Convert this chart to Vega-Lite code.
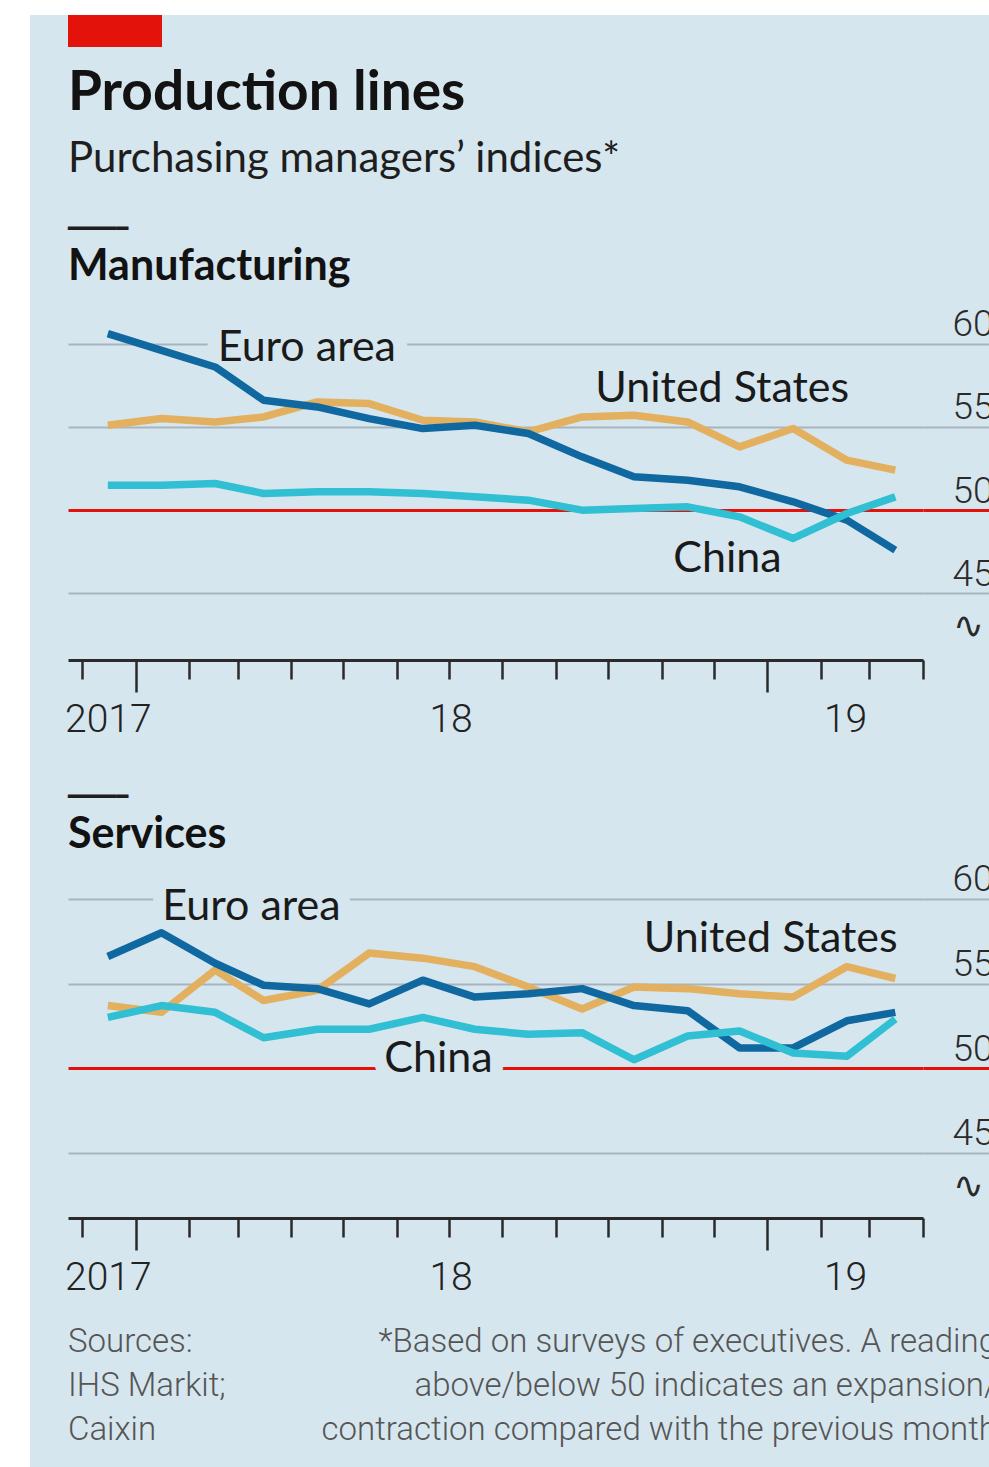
{
  "$schema": "https://vega.github.io/schema/vega-lite/v6.json",
  "background": "#d6e6ee",
  "padding": 0,
  "config": {"view": {"stroke": null}, "font": "Lato"},
  "datasets": {
    "pmi": [
      {"sector": "Manufacturing", "series": "United States", "date": "2017-12-16", "value": 55.1},
      {"sector": "Manufacturing", "series": "United States", "date": "2018-01-16", "value": 55.5},
      {"sector": "Manufacturing", "series": "United States", "date": "2018-02-16", "value": 55.3},
      {"sector": "Manufacturing", "series": "United States", "date": "2018-03-16", "value": 55.6},
      {"sector": "Manufacturing", "series": "United States", "date": "2018-04-16", "value": 56.5},
      {"sector": "Manufacturing", "series": "United States", "date": "2018-05-16", "value": 56.4},
      {"sector": "Manufacturing", "series": "United States", "date": "2018-06-16", "value": 55.4},
      {"sector": "Manufacturing", "series": "United States", "date": "2018-07-16", "value": 55.3},
      {"sector": "Manufacturing", "series": "United States", "date": "2018-08-16", "value": 54.7},
      {"sector": "Manufacturing", "series": "United States", "date": "2018-09-16", "value": 55.6},
      {"sector": "Manufacturing", "series": "United States", "date": "2018-10-16", "value": 55.7},
      {"sector": "Manufacturing", "series": "United States", "date": "2018-11-16", "value": 55.3},
      {"sector": "Manufacturing", "series": "United States", "date": "2018-12-16", "value": 53.8},
      {"sector": "Manufacturing", "series": "United States", "date": "2019-01-16", "value": 54.9},
      {"sector": "Manufacturing", "series": "United States", "date": "2019-02-16", "value": 53.0},
      {"sector": "Manufacturing", "series": "United States", "date": "2019-03-16", "value": 52.4},
      {"sector": "Manufacturing", "series": "Euro area", "date": "2017-12-16", "value": 60.6},
      {"sector": "Manufacturing", "series": "Euro area", "date": "2018-01-16", "value": 59.6},
      {"sector": "Manufacturing", "series": "Euro area", "date": "2018-02-16", "value": 58.6},
      {"sector": "Manufacturing", "series": "Euro area", "date": "2018-03-16", "value": 56.6},
      {"sector": "Manufacturing", "series": "Euro area", "date": "2018-04-16", "value": 56.2},
      {"sector": "Manufacturing", "series": "Euro area", "date": "2018-05-16", "value": 55.5},
      {"sector": "Manufacturing", "series": "Euro area", "date": "2018-06-16", "value": 54.9},
      {"sector": "Manufacturing", "series": "Euro area", "date": "2018-07-16", "value": 55.1},
      {"sector": "Manufacturing", "series": "Euro area", "date": "2018-08-16", "value": 54.6},
      {"sector": "Manufacturing", "series": "Euro area", "date": "2018-09-16", "value": 53.2},
      {"sector": "Manufacturing", "series": "Euro area", "date": "2018-10-16", "value": 52.0},
      {"sector": "Manufacturing", "series": "Euro area", "date": "2018-11-16", "value": 51.8},
      {"sector": "Manufacturing", "series": "Euro area", "date": "2018-12-16", "value": 51.4},
      {"sector": "Manufacturing", "series": "Euro area", "date": "2019-01-16", "value": 50.5},
      {"sector": "Manufacturing", "series": "Euro area", "date": "2019-02-16", "value": 49.4},
      {"sector": "Manufacturing", "series": "Euro area", "date": "2019-03-16", "value": 47.6},
      {"sector": "Manufacturing", "series": "China", "date": "2017-12-16", "value": 51.5},
      {"sector": "Manufacturing", "series": "China", "date": "2018-01-16", "value": 51.5},
      {"sector": "Manufacturing", "series": "China", "date": "2018-02-16", "value": 51.6},
      {"sector": "Manufacturing", "series": "China", "date": "2018-03-16", "value": 51.0},
      {"sector": "Manufacturing", "series": "China", "date": "2018-04-16", "value": 51.1},
      {"sector": "Manufacturing", "series": "China", "date": "2018-05-16", "value": 51.1},
      {"sector": "Manufacturing", "series": "China", "date": "2018-06-16", "value": 51.0},
      {"sector": "Manufacturing", "series": "China", "date": "2018-07-16", "value": 50.8},
      {"sector": "Manufacturing", "series": "China", "date": "2018-08-16", "value": 50.6},
      {"sector": "Manufacturing", "series": "China", "date": "2018-09-16", "value": 50.0},
      {"sector": "Manufacturing", "series": "China", "date": "2018-10-16", "value": 50.1},
      {"sector": "Manufacturing", "series": "China", "date": "2018-11-16", "value": 50.2},
      {"sector": "Manufacturing", "series": "China", "date": "2018-12-16", "value": 49.6},
      {"sector": "Manufacturing", "series": "China", "date": "2019-01-16", "value": 48.3},
      {"sector": "Manufacturing", "series": "China", "date": "2019-02-16", "value": 49.8},
      {"sector": "Manufacturing", "series": "China", "date": "2019-03-16", "value": 50.8},
      {"sector": "Services", "series": "United States", "date": "2017-12-16", "value": 53.7},
      {"sector": "Services", "series": "United States", "date": "2018-01-16", "value": 53.3},
      {"sector": "Services", "series": "United States", "date": "2018-02-16", "value": 55.8},
      {"sector": "Services", "series": "United States", "date": "2018-03-16", "value": 54.0},
      {"sector": "Services", "series": "United States", "date": "2018-04-16", "value": 54.6},
      {"sector": "Services", "series": "United States", "date": "2018-05-16", "value": 56.8},
      {"sector": "Services", "series": "United States", "date": "2018-06-16", "value": 56.5},
      {"sector": "Services", "series": "United States", "date": "2018-07-16", "value": 56.0},
      {"sector": "Services", "series": "United States", "date": "2018-08-16", "value": 54.8},
      {"sector": "Services", "series": "United States", "date": "2018-09-16", "value": 53.5},
      {"sector": "Services", "series": "United States", "date": "2018-10-16", "value": 54.8},
      {"sector": "Services", "series": "United States", "date": "2018-11-16", "value": 54.7},
      {"sector": "Services", "series": "United States", "date": "2018-12-16", "value": 54.4},
      {"sector": "Services", "series": "United States", "date": "2019-01-16", "value": 54.2},
      {"sector": "Services", "series": "United States", "date": "2019-02-16", "value": 56.0},
      {"sector": "Services", "series": "United States", "date": "2019-03-16", "value": 55.3},
      {"sector": "Services", "series": "Euro area", "date": "2017-12-16", "value": 56.6},
      {"sector": "Services", "series": "Euro area", "date": "2018-01-16", "value": 58.0},
      {"sector": "Services", "series": "Euro area", "date": "2018-02-16", "value": 56.2},
      {"sector": "Services", "series": "Euro area", "date": "2018-03-16", "value": 54.9},
      {"sector": "Services", "series": "Euro area", "date": "2018-04-16", "value": 54.7},
      {"sector": "Services", "series": "Euro area", "date": "2018-05-16", "value": 53.8},
      {"sector": "Services", "series": "Euro area", "date": "2018-06-16", "value": 55.2},
      {"sector": "Services", "series": "Euro area", "date": "2018-07-16", "value": 54.2},
      {"sector": "Services", "series": "Euro area", "date": "2018-08-16", "value": 54.4},
      {"sector": "Services", "series": "Euro area", "date": "2018-09-16", "value": 54.7},
      {"sector": "Services", "series": "Euro area", "date": "2018-10-16", "value": 53.7},
      {"sector": "Services", "series": "Euro area", "date": "2018-11-16", "value": 53.4},
      {"sector": "Services", "series": "Euro area", "date": "2018-12-16", "value": 51.2},
      {"sector": "Services", "series": "Euro area", "date": "2019-01-16", "value": 51.2},
      {"sector": "Services", "series": "Euro area", "date": "2019-02-16", "value": 52.8},
      {"sector": "Services", "series": "Euro area", "date": "2019-03-16", "value": 53.3},
      {"sector": "Services", "series": "China", "date": "2017-12-16", "value": 53.0},
      {"sector": "Services", "series": "China", "date": "2018-01-16", "value": 53.7},
      {"sector": "Services", "series": "China", "date": "2018-02-16", "value": 53.3},
      {"sector": "Services", "series": "China", "date": "2018-03-16", "value": 51.8},
      {"sector": "Services", "series": "China", "date": "2018-04-16", "value": 52.3},
      {"sector": "Services", "series": "China", "date": "2018-05-16", "value": 52.3},
      {"sector": "Services", "series": "China", "date": "2018-06-16", "value": 53.0},
      {"sector": "Services", "series": "China", "date": "2018-07-16", "value": 52.3},
      {"sector": "Services", "series": "China", "date": "2018-08-16", "value": 52.0},
      {"sector": "Services", "series": "China", "date": "2018-09-16", "value": 52.1},
      {"sector": "Services", "series": "China", "date": "2018-10-16", "value": 50.5},
      {"sector": "Services", "series": "China", "date": "2018-11-16", "value": 51.9},
      {"sector": "Services", "series": "China", "date": "2018-12-16", "value": 52.2},
      {"sector": "Services", "series": "China", "date": "2019-01-16", "value": 50.9},
      {"sector": "Services", "series": "China", "date": "2019-02-16", "value": 50.7},
      {"sector": "Services", "series": "China", "date": "2019-03-16", "value": 52.9}
    ],
    "labels": [
      {"sector": "Manufacturing", "series": "Euro area", "date": "2018-04-10", "value": 58.94},
      {"sector": "Manufacturing", "series": "United States", "date": "2018-12-06", "value": 56.48},
      {"sector": "Manufacturing", "series": "China", "date": "2018-12-09", "value": 46.28},
      {"sector": "Services", "series": "Euro area", "date": "2018-03-09", "value": 58.74},
      {"sector": "Services", "series": "United States", "date": "2019-01-03", "value": 56.85},
      {"sector": "Services", "series": "China", "date": "2018-06-25", "value": 49.76}
    ]
  },
  "spacing": 0,
  "vconcat": [
    {"width": 989, "height": 15, "view": {"fill": "#ffffff", "stroke": null}, "data": {"values": [{}]}, "mark": {"type": "text", "text": ""}},
    {
      "spacing": 38,
      "bounds": "flush",
      "hconcat": [
        {"width": 30, "height": 1452, "view": {"fill": "#ffffff", "stroke": null}, "data": {"values": [{}]}, "mark": {"type": "text", "text": ""}},
        {
          "spacing": 38,
          "vconcat": [
            {
              "width": 94, "height": 32,
              "view": {"fill": "#e3120b", "stroke": null},
              "data": {"values": [{}]},
              "mark": {"type": "text", "text": ""},
              "title": {
                "text": "Production lines", "subtitle": "Purchasing managers’ indices*",
                "orient": "bottom", "anchor": "start", "frame": "group",
                "font": "Lato", "fontSize": 55, "fontWeight": "bold", "color": "#121212",
                "subtitleFont": "Lato", "subtitleFontSize": 42, "subtitleColor": "#1e1e1e",
                "offset": 20, "subtitlePadding": 17
              }
            },
            {
              "spacing": 34,
              "vconcat": [
                {
                  "width": 855, "height": 333,
                  "title": {
                    "text": "━━━━━", "subtitle": "Manufacturing",
                    "anchor": "start", "frame": "group", "orient": "top",
                    "font": "DejaVu Sans", "fontSize": 20, "color": "#1e1e1e",
                    "subtitleFont": "Lato", "subtitleFontSize": 43, "subtitleFontWeight": "bold", "subtitleColor": "#121212",
                    "subtitlePadding": 7, "offset": 17
                  },
                  "encoding": {
                    "x": {"field": "date", "type": "temporal",
                      "scale": {"type": "utc", "domain": [{"year": 2017, "month": 11, "date": 23, "utc": true}, {"year": 2019, "month": 4, "date": 1, "utc": true}]},
                      "axis": {
                        "title": null, "orient": "bottom", "grid": false,
                        "values": [
                          {"year": 2017, "month": 12, "date": 1, "utc": true}, {"year": 2018, "month": 1, "date": 1, "utc": true}, {"year": 2018, "month": 2, "date": 1, "utc": true},
                          {"year": 2018, "month": 3, "date": 1, "utc": true}, {"year": 2018, "month": 4, "date": 1, "utc": true}, {"year": 2018, "month": 5, "date": 1, "utc": true},
                          {"year": 2018, "month": 6, "date": 1, "utc": true}, {"year": 2018, "month": 7, "date": 1, "utc": true}, {"year": 2018, "month": 8, "date": 1, "utc": true},
                          {"year": 2018, "month": 9, "date": 1, "utc": true}, {"year": 2018, "month": 10, "date": 1, "utc": true}, {"year": 2018, "month": 11, "date": 1, "utc": true},
                          {"year": 2018, "month": 12, "date": 1, "utc": true}, {"year": 2019, "month": 1, "date": 1, "utc": true}, {"year": 2019, "month": 2, "date": 1, "utc": true},
                          {"year": 2019, "month": 3, "date": 1, "utc": true}, {"year": 2019, "month": 4, "date": 1, "utc": true},
                          {"year": 2017, "month": 12, "date": 16, "utc": true}, {"year": 2018, "month": 7, "date": 2, "utc": true}, {"year": 2019, "month": 2, "date": 15, "utc": true}
                        ],
                        "domain": true, "domainColor": "#2a2a2a", "domainWidth": 3,
                        "ticks": true, "tickColor": "#2a2a2a", "tickWidth": 2.5,
                        "tickOpacity": {"condition": {"test": "utcdate(datum.value) != 1", "value": 0}, "value": 1},
                        "tickSize": {"condition": {"test": "utcdate(datum.value) == 1 && utcmonth(datum.value) == 0", "value": 32}, "value": 19},
                        "labelExpr": "utcdate(datum.value) == 1 ? '' : (utcyear(datum.value) == 2017 ? '2017' : utcFormat(datum.value, '%y'))",
                        "labelFont": "Roboto", "labelFontWeight": 300, "labelFontSize": 39, "labelColor": "#222222",
                        "labelBaseline": "top", "labelPadding": 21, "labelOverlap": false, "labelFlush": false, "labelBound": false
                      }
                    },
                    "y": {"field": "value", "type": "quantitative",
                      "scale": {"domain": [41, 61], "nice": false, "zero": false},
                      "axis": {
                        "title": null, "orient": "right", "domain": false,
                        "values": [41.9, 45, 50, 55, 60],
                        "grid": true,
                        "gridColor": {"condition": [{"test": "datum.value == 50", "value": "#e3120b"}, {"test": "datum.value < 42", "value": "rgba(0,0,0,0)"}], "value": "#a7b3bd"},
                        "gridWidth": {"condition": {"test": "datum.value == 50", "value": 3}, "value": 2},
                        "ticks": true, "tickSize": 80,
                        "tickColor": {"condition": [{"test": "datum.value == 50", "value": "#e3120b"}, {"test": "datum.value < 42", "value": "rgba(0,0,0,0)"}], "value": "#a7b3bd"},
                        "tickWidth": {"condition": {"test": "datum.value == 50", "value": 3}, "value": 2},
                        "labelExpr": "datum.value < 42 ? '∿' : datum.label",
                        "labelFont": "Roboto", "labelFontWeight": 300, "labelFontSize": 37, "labelColor": "#2a2a2a",
                        "labelAlign": "left", "labelBaseline": "alphabetic", "labelOffset": -8, "labelPadding": -51,
                        "labelOverlap": false, "labelFlush": false, "labelBound": false
                      }
                    }
                  },
                  "layer": [
                    {"data": {"name": "labels"}, "transform": [{"filter": "datum.sector == 'Manufacturing'"}],
                     "mark": {"type": "text", "font": "Lato", "fontSize": 43, "align": "center", "baseline": "alphabetic", "fill": "#d6e6ee", "stroke": "#d6e6ee", "strokeWidth": 28, "strokeJoin": "round"},
                     "encoding": {"text": {"field": "series"}}},
                    {"data": {"name": "pmi"}, "transform": [{"filter": "datum.sector == 'Manufacturing'"}],
                     "mark": {"type": "line", "strokeWidth": 7.5, "strokeCap": "butt", "strokeJoin": "round"},
                     "encoding": {"color": {"field": "series", "type": "nominal", "legend": null,
                       "scale": {"domain": ["Euro area", "United States", "China"], "range": ["#0f68a0", "#e2b05e", "#30bfd3"]}}}},
                    {"data": {"name": "labels"}, "transform": [{"filter": "datum.sector == 'Manufacturing'"}],
                     "mark": {"type": "text", "font": "Lato", "fontSize": 43, "align": "center", "baseline": "alphabetic", "color": "#1a1a1a"},
                     "encoding": {"text": {"field": "series"}}}
                  ]
                },
                {
                  "spacing": 0,
                  "vconcat": [
                    {
                      "width": 855, "height": 336,
                      "title": {
                        "text": "━━━━━", "subtitle": "Services",
                        "anchor": "start", "frame": "group", "orient": "top",
                        "font": "DejaVu Sans", "fontSize": 20, "color": "#1e1e1e",
                        "subtitleFont": "Lato", "subtitleFontSize": 43, "subtitleFontWeight": "bold", "subtitleColor": "#121212",
                        "subtitlePadding": 7, "offset": 4
                      },
                      "encoding": {
                        "x": {"field": "date", "type": "temporal",
                          "scale": {"type": "utc", "domain": [{"year": 2017, "month": 11, "date": 23, "utc": true}, {"year": 2019, "month": 4, "date": 1, "utc": true}]},
                          "axis": {
                            "title": null, "orient": "bottom", "grid": false,
                            "values": [
                              {"year": 2017, "month": 12, "date": 1, "utc": true}, {"year": 2018, "month": 1, "date": 1, "utc": true}, {"year": 2018, "month": 2, "date": 1, "utc": true},
                              {"year": 2018, "month": 3, "date": 1, "utc": true}, {"year": 2018, "month": 4, "date": 1, "utc": true}, {"year": 2018, "month": 5, "date": 1, "utc": true},
                              {"year": 2018, "month": 6, "date": 1, "utc": true}, {"year": 2018, "month": 7, "date": 1, "utc": true}, {"year": 2018, "month": 8, "date": 1, "utc": true},
                              {"year": 2018, "month": 9, "date": 1, "utc": true}, {"year": 2018, "month": 10, "date": 1, "utc": true}, {"year": 2018, "month": 11, "date": 1, "utc": true},
                              {"year": 2018, "month": 12, "date": 1, "utc": true}, {"year": 2019, "month": 1, "date": 1, "utc": true}, {"year": 2019, "month": 2, "date": 1, "utc": true},
                              {"year": 2019, "month": 3, "date": 1, "utc": true}, {"year": 2019, "month": 4, "date": 1, "utc": true},
                              {"year": 2017, "month": 12, "date": 16, "utc": true}, {"year": 2018, "month": 7, "date": 2, "utc": true}, {"year": 2019, "month": 2, "date": 15, "utc": true}
                            ],
                            "domain": true, "domainColor": "#2a2a2a", "domainWidth": 3,
                            "ticks": true, "tickColor": "#2a2a2a", "tickWidth": 2.5,
                            "tickOpacity": {"condition": {"test": "utcdate(datum.value) != 1", "value": 0}, "value": 1},
                            "tickSize": {"condition": {"test": "utcdate(datum.value) == 1 && utcmonth(datum.value) == 0", "value": 32}, "value": 19},
                            "labelExpr": "utcdate(datum.value) == 1 ? '' : (utcyear(datum.value) == 2017 ? '2017' : utcFormat(datum.value, '%y'))",
                            "labelFont": "Roboto", "labelFontWeight": 300, "labelFontSize": 39, "labelColor": "#222222",
                            "labelBaseline": "top", "labelPadding": 21, "labelOverlap": false, "labelFlush": false, "labelBound": false
                          }
                        },
                        "y": {"field": "value", "type": "quantitative",
                          "scale": {"domain": [41.15, 61], "nice": false, "zero": false},
                          "axis": {
                            "title": null, "orient": "right", "domain": false,
                            "values": [41.9, 45, 50, 55, 60],
                            "grid": true,
                            "gridColor": {"condition": [{"test": "datum.value == 50", "value": "#e3120b"}, {"test": "datum.value < 42", "value": "rgba(0,0,0,0)"}], "value": "#a7b3bd"},
                            "gridWidth": {"condition": {"test": "datum.value == 50", "value": 3}, "value": 2},
                            "ticks": true, "tickSize": 80,
                            "tickColor": {"condition": [{"test": "datum.value == 50", "value": "#e3120b"}, {"test": "datum.value < 42", "value": "rgba(0,0,0,0)"}], "value": "#a7b3bd"},
                            "tickWidth": {"condition": {"test": "datum.value == 50", "value": 3}, "value": 2},
                            "labelExpr": "datum.value < 42 ? '∿' : datum.label",
                            "labelFont": "Roboto", "labelFontWeight": 300, "labelFontSize": 37, "labelColor": "#2a2a2a",
                            "labelAlign": "left", "labelBaseline": "alphabetic", "labelOffset": -8, "labelPadding": -51,
                            "labelOverlap": false, "labelFlush": false, "labelBound": false
                          }
                        }
                      },
                      "layer": [
                        {"data": {"name": "labels"}, "transform": [{"filter": "datum.sector == 'Services'"}],
                         "mark": {"type": "text", "font": "Lato", "fontSize": 43, "align": "center", "baseline": "alphabetic", "fill": "#d6e6ee", "stroke": "#d6e6ee", "strokeWidth": 26, "strokeJoin": "round"},
                         "encoding": {"text": {"field": "series"}}},
                        {"data": {"name": "pmi"}, "transform": [{"filter": "datum.sector == 'Services'"}],
                         "mark": {"type": "line", "strokeWidth": 7.5, "strokeCap": "butt", "strokeJoin": "round"},
                         "encoding": {"color": {"field": "series", "type": "nominal", "legend": null,
                           "scale": {"domain": ["Euro area", "United States", "China"], "range": ["#0f68a0", "#e2b05e", "#30bfd3"]}}}},
                        {"data": {"name": "labels"}, "transform": [{"filter": "datum.sector == 'Services'"}],
                         "mark": {"type": "text", "font": "Lato", "fontSize": 43, "align": "center", "baseline": "alphabetic", "color": "#1a1a1a"},
                         "encoding": {"text": {"field": "series"}}}
                      ]
                    },
                    {
                      "spacing": 0,
                      "hconcat": [
                        {"width": 250, "height": 1, "data": {"values": [{}]}, "mark": {"type": "text", "text": ""},
                         "title": {"text": ["Sources:", "IHS Markit;", "Caixin"], "orient": "bottom", "anchor": "start", "frame": "group",
                           "font": "Roboto", "fontSize": 33, "fontWeight": 300, "color": "#555555", "lineHeight": 44, "offset": 4}},
                        {"width": 679, "height": 1, "data": {"values": [{}]}, "mark": {"type": "text", "text": ""},
                         "title": {"text": ["*Based on surveys of executives. A reading", "above/below 50 indicates an expansion/", "contraction compared with the previous month"], "orient": "bottom", "anchor": "end", "align": "right", "frame": "group",
                           "font": "Roboto", "fontSize": 33, "fontWeight": 300, "color": "#555555", "lineHeight": 44, "offset": 4}}
                      ]
                    }
                  ]
                }
              ]
            }
          ]
        }
      ]
    }
  ]
}
